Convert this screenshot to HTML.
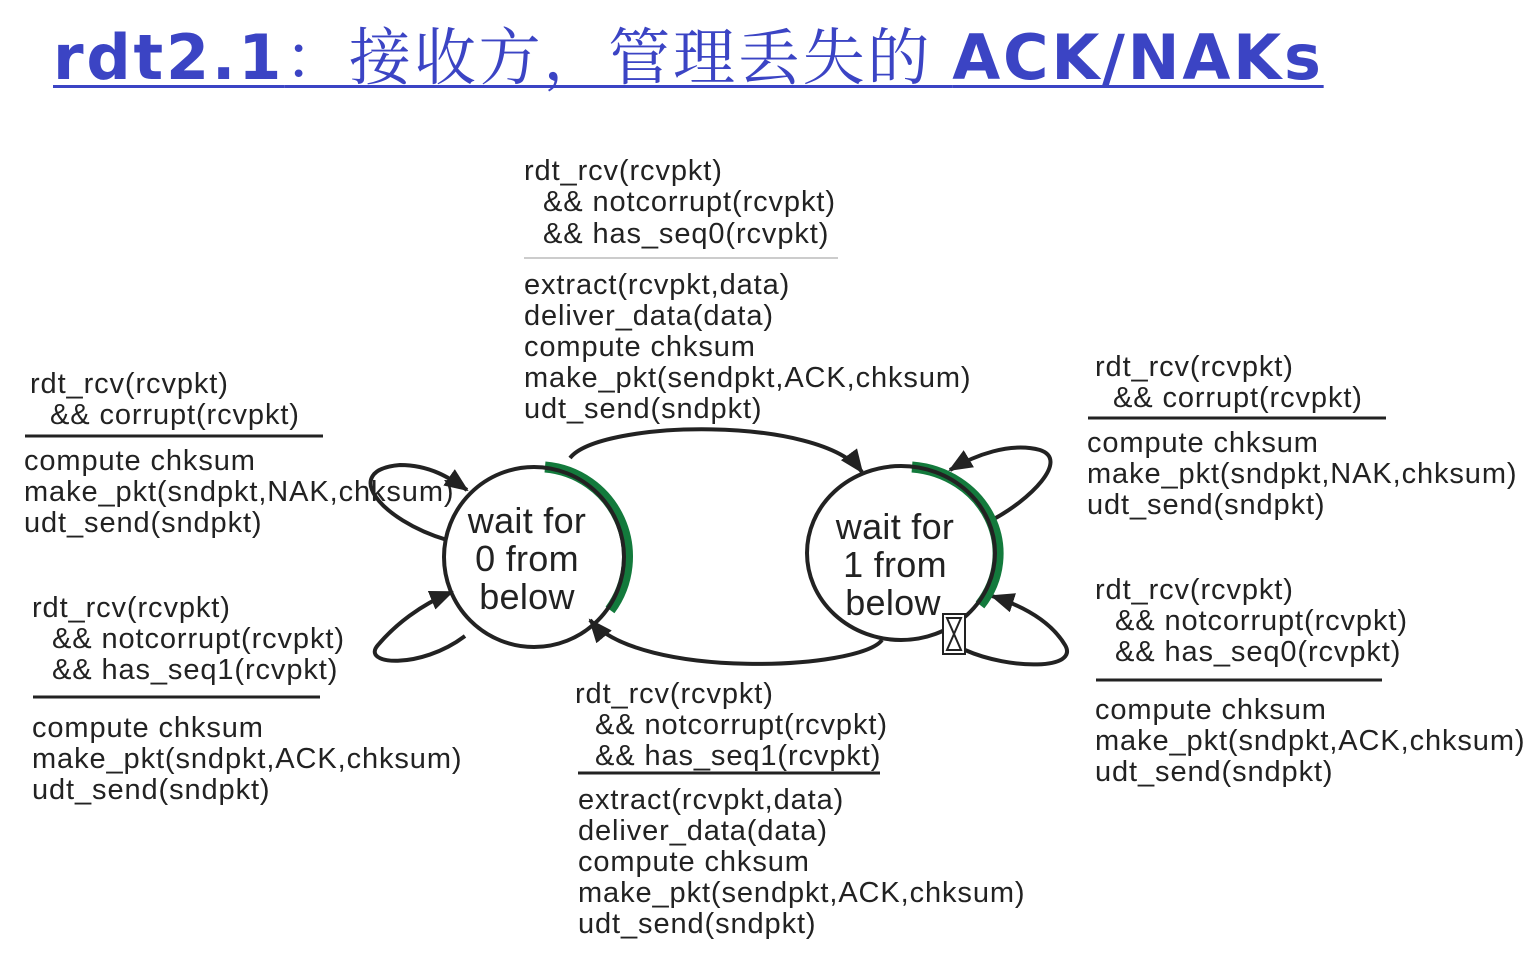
<!DOCTYPE html>
<html><head><meta charset="utf-8"><style>
body{margin:0;background:#fff;width:1540px;height:974px;overflow:hidden;position:relative}
.t{position:absolute;left:53px;top:8px;font-size:62px;letter-spacing:2.8px;color:#3b44c4;text-decoration:underline;text-decoration-thickness:3px;text-underline-offset:6px;white-space:nowrap;font-family:"Liberation Sans","Noto Serif CJK SC",serif}
.t b{font-family:"DejaVu Sans","Liberation Sans",sans-serif;font-weight:bold}
svg{position:absolute;left:0;top:0}
text{font-family:"Liberation Sans",sans-serif;font-size:29px;fill:#222;letter-spacing:0.9px}
</style></head><body>
<div class="t"><b>rdt2.1</b>：接收方，管理丢失的 <b>ACK/NAKs</b></div>
<svg width="1540" height="974">
<defs>
<marker id="b" markerWidth="24" markerHeight="20" refX="22" refY="10" orient="auto" markerUnits="userSpaceOnUse"><path d="M0,0 L24,10 L0,20 z" fill="#222"/></marker></defs>
<g fill="none" stroke="#222" stroke-width="4">
<path d="M570,458 C600,420 820,415 862,472" marker-end="url(#b)"/>
<path d="M882,640 C860,670 640,680 590,620" marker-end="url(#b)"/>
<path d="M447,540 C380,520 340,470 400,465 C430,465 450,478 467,490" marker-end="url(#b)"/>
<path d="M465,636 C420,670 360,665 378,645 C395,625 420,605 452,592" marker-end="url(#b)"/>
<path d="M992,520 C1030,500 1070,460 1040,450 C1010,442 975,455 950,470" marker-end="url(#b)"/>
<path d="M965,650 C1010,670 1080,670 1065,645 C1050,620 1020,605 992,596" marker-end="url(#b)"/>
</g>
<path d="M545,467 A90,90 0 0 1 610,610" fill="none" stroke="#137a3c" stroke-width="11"/>
<path d="M912,467 A94,87 0 0 1 980,605" fill="none" stroke="#137a3c" stroke-width="11"/>
<ellipse cx="534" cy="557" rx="90" ry="90" fill="none" stroke="#222" stroke-width="4"/>
<ellipse cx="901" cy="553" rx="94" ry="87" fill="none" stroke="#222" stroke-width="4"/>
<g>
<text x="527" y="533" text-anchor="middle" style="font-size:36px;letter-spacing:0.3px">wait for</text>
<text x="527" y="571" text-anchor="middle" style="font-size:36px;letter-spacing:0.3px">0 from</text>
<text x="527" y="609" text-anchor="middle" style="font-size:36px;letter-spacing:0.3px">below</text>
<text x="895" y="539" text-anchor="middle" style="font-size:36px;letter-spacing:0.3px">wait for</text>
<text x="895" y="577" text-anchor="middle" style="font-size:36px;letter-spacing:0.3px">1 from</text>
<text x="893" y="615" text-anchor="middle" style="font-size:36px;letter-spacing:0.3px">below</text>
</g>
<g stroke="#222">
<line x1="524" y1="258" x2="838" y2="258" stroke="#bbb" stroke-width="1.5"/>
<line x1="25" y1="436" x2="323" y2="436" stroke-width="3"/>
<line x1="33" y1="697" x2="320" y2="697" stroke-width="3"/>
<line x1="1088" y1="418" x2="1386" y2="418" stroke-width="3"/>
<line x1="1096" y1="680" x2="1382" y2="680" stroke-width="3"/>
<line x1="578" y1="773" x2="880" y2="773" stroke-width="3"/>
</g>
<text x="524" y="180">rdt_rcv(rcvpkt)</text>
<text x="543" y="211">&amp;&amp; notcorrupt(rcvpkt)</text>
<text x="543" y="243">&amp;&amp; has_seq0(rcvpkt)</text>
<text x="524" y="294">extract(rcvpkt,data)</text>
<text x="524" y="325">deliver_data(data)</text>
<text x="524" y="356">compute chksum</text>
<text x="524" y="387">make_pkt(sendpkt,ACK,chksum)</text>
<text x="524" y="418">udt_send(sndpkt)</text>
<text x="30" y="393">rdt_rcv(rcvpkt)</text>
<text x="50" y="424">&amp;&amp; corrupt(rcvpkt)</text>
<text x="24" y="470">compute chksum</text>
<text x="24" y="501">make_pkt(sndpkt,NAK,chksum)</text>
<text x="24" y="532">udt_send(sndpkt)</text>
<text x="32" y="617">rdt_rcv(rcvpkt)</text>
<text x="52" y="648">&amp;&amp; notcorrupt(rcvpkt)</text>
<text x="52" y="679">&amp;&amp; has_seq1(rcvpkt)</text>
<text x="32" y="737">compute chksum</text>
<text x="32" y="768">make_pkt(sndpkt,ACK,chksum)</text>
<text x="32" y="799">udt_send(sndpkt)</text>
<text x="1095" y="376">rdt_rcv(rcvpkt)</text>
<text x="1113" y="407">&amp;&amp; corrupt(rcvpkt)</text>
<text x="1087" y="452">compute chksum</text>
<text x="1087" y="483">make_pkt(sndpkt,NAK,chksum)</text>
<text x="1087" y="514">udt_send(sndpkt)</text>
<text x="1095" y="599">rdt_rcv(rcvpkt)</text>
<text x="1115" y="630">&amp;&amp; notcorrupt(rcvpkt)</text>
<text x="1115" y="661">&amp;&amp; has_seq0(rcvpkt)</text>
<text x="1095" y="719">compute chksum</text>
<text x="1095" y="750">make_pkt(sndpkt,ACK,chksum)</text>
<text x="1095" y="781">udt_send(sndpkt)</text>
<text x="575" y="703">rdt_rcv(rcvpkt)</text>
<text x="595" y="734">&amp;&amp; notcorrupt(rcvpkt)</text>
<text x="595" y="765">&amp;&amp; has_seq1(rcvpkt)</text>
<text x="578" y="809">extract(rcvpkt,data)</text>
<text x="578" y="840">deliver_data(data)</text>
<text x="578" y="871">compute chksum</text>
<text x="578" y="902">make_pkt(sendpkt,ACK,chksum)</text>
<text x="578" y="933">udt_send(sndpkt)</text>
<g stroke="#222" stroke-width="2" fill="#fff"><rect x="943" y="614" width="22" height="40"/><path d="M947,618 L961,618 L954,634 L961,650 L947,650 L954,634 Z"/></g>
</svg>
</body></html>
